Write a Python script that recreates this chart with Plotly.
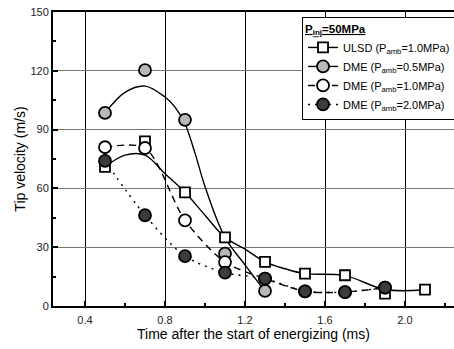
import plotly.graph_objects as go

# Measured tip velocities (m/s) against time after start of energizing (ms)
t_ulsd = [0.5, 0.7, 0.9, 1.1, 1.3, 1.5, 1.7, 1.9, 2.1]
v_ulsd = [71, 84, 58, 35, 22.5, 16.5, 15.7, 6.3, 8.4]

t_dme05 = [0.5, 0.7, 0.9, 1.1, 1.3]
v_dme05 = [98.5, 120.3, 95, 26.7, 7.7]

t_dme10 = [0.5, 0.7, 0.9, 1.1, 1.3, 1.5, 1.7, 1.9]
v_dme10 = [81, 80.6, 43.7, 22.4, 14, 7.5, 7.1, 9.4]

t_dme20 = [0.5, 0.7, 0.9, 1.1, 1.3, 1.5, 1.7, 1.9]
v_dme20 = [74, 46.3, 25.4, 17, 14, 7.5, 7.1, 9.4]

# Smoothed trend curves for ULSD and DME (0.5 MPa)
t_ulsd_fit = [0.5, 0.6, 0.7, 0.8, 0.9, 1.0, 1.1, 1.2, 1.3, 1.4, 1.5, 1.7, 1.9, 2.1]
v_ulsd_fit = [71, 77, 77, 67.5, 58, 46.3, 35, 29, 22.5, 19, 16.5, 15.5, 8.4, 8.3]

t_dme05_fit = [0.5, 0.6, 0.7, 0.8, 0.85, 0.9, 0.95, 1.0, 1.1, 1.2, 1.3]
v_dme05_fit = [98.5, 109, 112.2, 106.6, 101.5, 93, 78, 61, 35, 21, 7.5]

x_ticks = [0.4, 0.8, 1.2, 1.6, 2.0]
x_ticktext = ["0.4", "0.8", "1.2", "1.6", "2.0"]
y_ticks = [0, 30, 60, 90, 120, 150]

names = [
    "ULSD (P<sub>amb</sub>=1.0MPa)",
    "DME (P<sub>amb</sub>=0.5MPa)",
    "DME (P<sub>amb</sub>=1.0MPa)",
    "DME (P<sub>amb</sub>=2.0MPa)",
]

FONT = "Liberation Sans, Arial, sans-serif"
LW = 1.4
DASH = "7px,5px"
DOT = "2px,5px"

fig = go.Figure()

# curves first so that markers sit on top
fig.add_trace(go.Scatter(x=t_ulsd_fit, y=v_ulsd_fit, mode="lines", line=dict(color="black", width=LW, shape="spline"), showlegend=False, hoverinfo="skip"))
fig.add_trace(go.Scatter(x=t_dme05_fit, y=v_dme05_fit, mode="lines", line=dict(color="black", width=LW, shape="spline"), showlegend=False, hoverinfo="skip"))
fig.add_trace(go.Scatter(x=t_dme10, y=v_dme10, mode="lines", line=dict(color="black", width=LW, shape="spline", smoothing=0.8, dash=DASH), showlegend=False, hoverinfo="skip"))
fig.add_trace(go.Scatter(x=t_dme20, y=v_dme20, mode="lines", line=dict(color="black", width=LW, shape="spline", smoothing=0.8, dash=DOT), showlegend=False, hoverinfo="skip"))

sq = dict(symbol="square", size=10, color="white", line=dict(color="black", width=1.8))
c05 = dict(symbol="circle", size=12, color="#b8b8b8", line=dict(color="black", width=1.8))
c10 = dict(symbol="circle", size=12, color="white", line=dict(color="black", width=1.8))
c20 = dict(symbol="circle", size=12, color="#3c3c3c", line=dict(color="black", width=1.8))

fig.add_trace(go.Scatter(x=t_ulsd, y=v_ulsd, mode="markers", marker=sq, showlegend=False))
fig.add_trace(go.Scatter(x=t_dme05, y=v_dme05, mode="markers", marker=c05, showlegend=False))
fig.add_trace(go.Scatter(x=t_dme10, y=v_dme10, mode="markers", marker=c10, showlegend=False))
fig.add_trace(go.Scatter(x=t_dme20, y=v_dme20, mode="markers", marker=c20, showlegend=False))

# legend entries (line + symbol)
for name, mk, dash in zip(names, [sq, c05, c10, c20], ["solid", "solid", DASH, DOT]):
    fig.add_trace(go.Scatter(x=[None], y=[None], mode="lines+markers", name=name,
                             marker=mk, line=dict(color="black", width=LW, dash=dash)))

fig.update_layout(
    width=454, height=349,
    margin=dict(l=53, r=0, t=12, b=43, autoexpand=False),
    paper_bgcolor="white", plot_bgcolor="white",
    font=dict(family=FONT, size=11, color="black"),
    legend=dict(
        x=0.621, y=0.983, xanchor="left", yanchor="top",
        bgcolor="white", bordercolor="black", borderwidth=1,
        font=dict(family=FONT, size=11, color="black"),
        title=dict(text="<b><u>P<sub>inj</sub>=50MPa</u></b>", font=dict(family=FONT, size=11.5)),
        tracegroupgap=0, itemwidth=30,
    ),
)

fig.update_xaxes(
    range=[0.24, 2.245], tickvals=x_ticks, ticktext=x_ticktext,
    ticks="inside", ticklen=5, tickwidth=1.5, tickcolor="black",
    minor=dict(tickvals=[0.6, 1.0, 1.4, 1.8, 2.2], ticks="inside", ticklen=3, tickwidth=1.5, tickcolor="black", showgrid=False),
    showgrid=True, gridcolor="black", gridwidth=1,
    showline=True, linecolor="black", linewidth=2, mirror=True,
    zeroline=False, ticklabelstandoff=3, automargin=False,
    title=dict(text="Time after the start of energizing (ms)", font=dict(family=FONT, size=14), standoff=1),
    tickfont=dict(family=FONT, size=11, color="#222222"),
)
fig.update_yaxes(
    range=[0, 150], tickvals=y_ticks,
    ticks="inside", ticklen=5, tickwidth=1.5, tickcolor="black",
    minor=dict(tickvals=[15, 45, 75, 105, 135], ticks="inside", ticklen=3, tickwidth=1.5, tickcolor="black", showgrid=False),
    showgrid=True, gridcolor="#777777", gridwidth=1.3,
    showline=True, linecolor="black", linewidth=2, mirror=False,
    zeroline=False, automargin=False,
    title=dict(text="Tip velocity (m/s)", font=dict(family=FONT, size=14), standoff=2),
    tickfont=dict(family=FONT, size=11, color="#222222"),
)

fig.write_html("out.html")
